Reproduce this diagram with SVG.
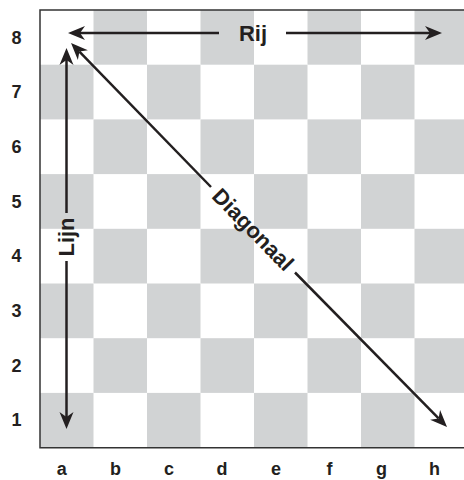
<svg xmlns="http://www.w3.org/2000/svg" width="464" height="480" viewBox="0 0 464 480">
<style>
.sq{fill:#d1d3d4}
.lbl{font-family:"Liberation Sans",Arial,sans-serif;font-weight:bold;font-size:18px;fill:#231f20;text-anchor:middle}
.alb{font-family:"Liberation Sans",Arial,sans-serif;font-weight:bold;font-size:22px;fill:#231f20;text-anchor:middle;dominant-baseline:central}
.arr{stroke:#231f20;stroke-width:2.5;fill:none;marker-end:url(#ah)}
.brd{stroke:#333;stroke-width:1.5;fill:none}
</style>
<defs>
<marker id="ah" markerUnits="userSpaceOnUse" markerWidth="30" markerHeight="30" viewBox="-10 -10 30 20" refX="0" refY="0" orient="auto" overflow="visible">
<path d="M12,0 L-5,-7 L0,0 L-5,7 Z" fill="#231f20"/>
</marker>
</defs>
<rect width="464" height="480" fill="#fff"/>
<g id="board">
<rect class="sq" x="93.5" y="10" width="53.5" height="54.7"/>
<rect class="sq" x="200.5" y="10" width="53.5" height="54.7"/>
<rect class="sq" x="307.5" y="10" width="53.5" height="54.7"/>
<rect class="sq" x="414.5" y="10" width="53.5" height="54.7"/>
<rect class="sq" x="40" y="64.7" width="53.5" height="54.7"/>
<rect class="sq" x="147" y="64.7" width="53.5" height="54.7"/>
<rect class="sq" x="254" y="64.7" width="53.5" height="54.7"/>
<rect class="sq" x="361" y="64.7" width="53.5" height="54.7"/>
<rect class="sq" x="93.5" y="119.4" width="53.5" height="54.7"/>
<rect class="sq" x="200.5" y="119.4" width="53.5" height="54.7"/>
<rect class="sq" x="307.5" y="119.4" width="53.5" height="54.7"/>
<rect class="sq" x="414.5" y="119.4" width="53.5" height="54.7"/>
<rect class="sq" x="40" y="174.1" width="53.5" height="54.7"/>
<rect class="sq" x="147" y="174.1" width="53.5" height="54.7"/>
<rect class="sq" x="254" y="174.1" width="53.5" height="54.7"/>
<rect class="sq" x="361" y="174.1" width="53.5" height="54.7"/>
<rect class="sq" x="93.5" y="228.8" width="53.5" height="54.7"/>
<rect class="sq" x="200.5" y="228.8" width="53.5" height="54.7"/>
<rect class="sq" x="307.5" y="228.8" width="53.5" height="54.7"/>
<rect class="sq" x="414.5" y="228.8" width="53.5" height="54.7"/>
<rect class="sq" x="40" y="283.5" width="53.5" height="54.7"/>
<rect class="sq" x="147" y="283.5" width="53.5" height="54.7"/>
<rect class="sq" x="254" y="283.5" width="53.5" height="54.7"/>
<rect class="sq" x="361" y="283.5" width="53.5" height="54.7"/>
<rect class="sq" x="93.5" y="338.2" width="53.5" height="54.7"/>
<rect class="sq" x="200.5" y="338.2" width="53.5" height="54.7"/>
<rect class="sq" x="307.5" y="338.2" width="53.5" height="54.7"/>
<rect class="sq" x="414.5" y="338.2" width="53.5" height="54.7"/>
<rect class="sq" x="40" y="392.9" width="53.5" height="54.8"/>
<rect class="sq" x="147" y="392.9" width="53.5" height="54.8"/>
<rect class="sq" x="254" y="392.9" width="53.5" height="54.8"/>
<rect class="sq" x="361" y="392.9" width="53.5" height="54.8"/>
<path class="brd" d="M464,10 H40 V447.7 H464"/>
</g>
<g id="ranks">
<text class="lbl" x="16.5" y="43.5">8</text>
<text class="lbl" x="16.5" y="98.2">7</text>
<text class="lbl" x="16.5" y="152.9">6</text>
<text class="lbl" x="16.5" y="207.6">5</text>
<text class="lbl" x="16.5" y="262.3">4</text>
<text class="lbl" x="16.5" y="317">3</text>
<text class="lbl" x="16.5" y="371.7">2</text>
<text class="lbl" x="16.5" y="426.4">1</text>
</g>
<g id="files">
<text class="lbl" x="61.7" y="475">a</text>
<text class="lbl" x="115.5" y="475">b</text>
<text class="lbl" x="169" y="475">c</text>
<text class="lbl" x="222" y="475">d</text>
<text class="lbl" x="276" y="475">e</text>
<text class="lbl" x="329.5" y="475">f</text>
<text class="lbl" x="381.5" y="475">g</text>
<text class="lbl" x="434.5" y="475">h</text>
</g>
<g id="connectors">
<line class="arr" x1="219" y1="33" x2="80" y2="33"/>
<line class="arr" x1="286" y1="33" x2="430" y2="33"/>
<line class="arr" x1="66.5" y1="213" x2="66.5" y2="60"/>
<line class="arr" x1="66.5" y1="261" x2="66.5" y2="417"/>
<line class="arr" x1="211" y1="187" x2="79.4" y2="51.6"/>
<line class="arr" x1="295" y1="272.5" x2="438.6" y2="418.4"/>
</g>
<g id="rij"><text class="alb" x="253" y="33">Rij</text></g>
<g id="lijn"><text class="alb" transform="translate(66.5,237) rotate(-90)">Lijn</text></g>
<g id="diagonaal"><text class="alb" transform="translate(253,229.5) rotate(45.6)">Diagonaal</text></g>
</svg>
